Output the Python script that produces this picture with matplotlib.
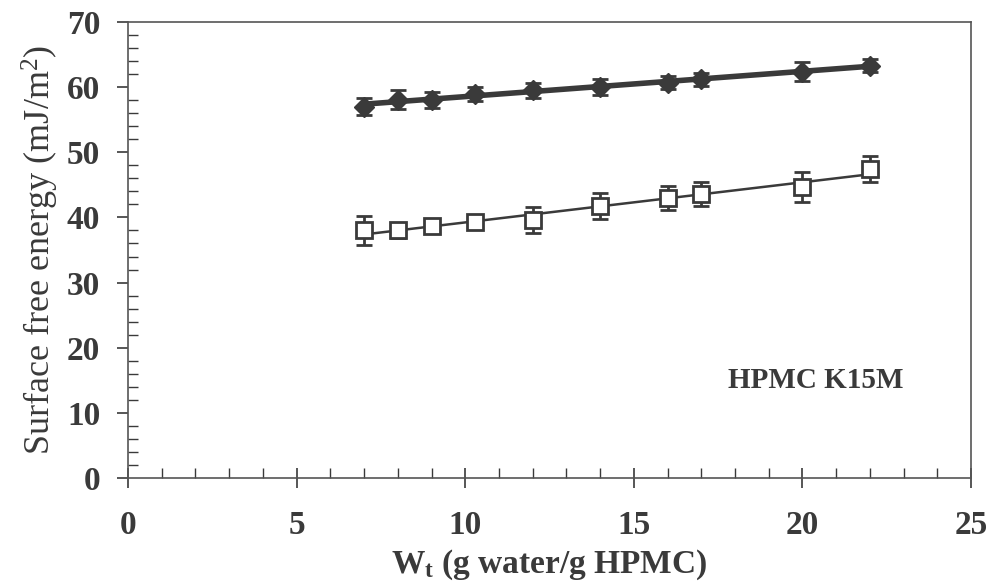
import numpy as np
import matplotlib.pyplot as plt
from matplotlib.ticker import MultipleLocator

plt.rcParams['font.family'] = ['Liberation Serif', 'DejaVu Serif']
plt.rcParams['mathtext.fontset'] = 'custom'
plt.rcParams['mathtext.rm'] = 'Liberation Serif'
plt.rcParams['mathtext.it'] = 'Liberation Serif:italic'
plt.rcParams['mathtext.bf'] = 'Liberation Serif:bold'

# data
wt = [7, 8, 9, 10.3, 12, 14, 16, 17, 20, 22]
total = [57.0, 58.1, 58.0, 59.0, 59.5, 60.0, 60.7, 61.2, 62.4, 63.3]
total_err = [1.3, 1.4, 1.2, 1.1, 1.1, 1.2, 1.0, 1.0, 1.5, 1.0]
disp = [38.0, 38.0, 38.7, 39.3, 39.6, 41.8, 43.0, 43.6, 44.6, 47.5]
disp_err = [2.2, 1.2, 1.0, 0.9, 2.0, 2.0, 1.8, 1.8, 2.3, 2.0]

ink = '#3a3a3a'

fig = plt.figure(figsize=(9.96, 5.87), dpi=100)
ax = fig.add_axes([0.1285, 0.1857, 0.8465, 0.7768])

xs = np.array([min(wt), max(wt)])

# total: filled markers, thick fit line
p = np.polyfit(wt, total, 1)
ax.plot(xs, np.polyval(p, xs), color=ink, lw=4)
ax.errorbar(wt, total, yerr=total_err, fmt='D', ms=10, color=ink,
            mfc=ink, mec=ink, ecolor=ink, elinewidth=2, capsize=6, capthick=2)

# dispersive: open squares, thin fit line
p = np.polyfit(wt, disp, 1)
ax.plot(xs, np.polyval(p, xs), color=ink, lw=1.8)
ax.errorbar(wt, disp, yerr=disp_err, fmt='s', ms=11, color=ink,
            mfc='white', mec=ink, mew=2, ecolor=ink, elinewidth=2,
            capsize=6, capthick=2, zorder=3)

ax.text(20.4, 15.0, 'HPMC K15M', ha='center', va='center',
        fontsize=21, fontweight='bold', color=ink)

ax.set_xlim(0, 25)
ax.set_ylim(0, 70)
ax.xaxis.set_major_locator(MultipleLocator(5))
ax.xaxis.set_minor_locator(MultipleLocator(1))
ax.yaxis.set_major_locator(MultipleLocator(10))
ax.yaxis.set_minor_locator(MultipleLocator(2))
ax.tick_params(axis='x', which='major', direction='inout', length=14, width=1.2,
               colors=ink, labelsize=24, pad=16)
ax.tick_params(axis='y', which='major', direction='out', length=8, width=1.2,
               colors=ink, labelsize=24, pad=12)
ax.tick_params(which='minor', direction='in', length=7, width=1.0, colors=ink)
for lab in ax.get_xticklabels() + ax.get_yticklabels():
    lab.set_fontweight('bold')
for s in ax.spines.values():
    s.set_color('#555555')
    s.set_linewidth(1.2)

ax.set_ylabel('Surface free energy (mJ/m$^2$)', fontsize=26, color=ink, labelpad=4)
ax.set_xlabel(r'$\mathbf{W_t}$ (g water/g HPMC)', fontsize=24, fontweight='bold',
              color=ink, labelpad=5)

fig.savefig('out.png', dpi=100)
